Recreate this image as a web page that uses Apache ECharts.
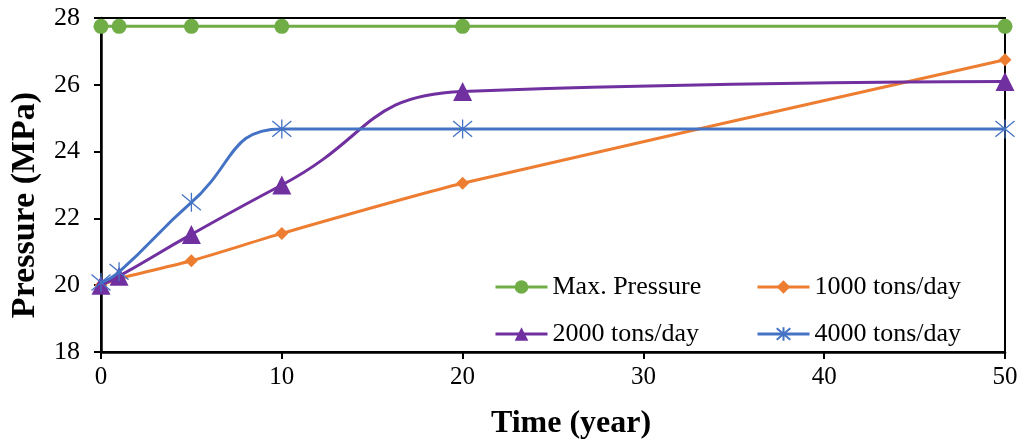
<!DOCTYPE html>
<html><head><meta charset="utf-8">
<script src="https://cdn.jsdelivr.net/npm/echarts@6/dist/echarts.min.js"></script>
<style>html,body{margin:0;padding:0;background:#fff}#c{width:1027px;height:446px}</style>
</head><body><div id="c"></div>
<script>
const years = [0, 1, 5, 10, 20, 50];
const maxPressure = [27.75, 27.75, 27.75, 27.75, 27.75, 27.75];
const t1000 = [20.0, 20.2, 20.73, 21.55, 23.05, 26.75];
const t2000 = [20.0, 20.27, 21.52, 23.0, 25.8, 26.1];
const t4000 = [20.08, 20.4, 22.48, 24.68, 24.68, 24.68];
const seriesNames = ['Max. Pressure', '1000 tons/day', '2000 tons/day', '4000 tons/day'];
const xTicks = [0, 10, 20, 30, 40, 50];
const yTicks = [18, 20, 22, 24, 26, 28];

const pair = a => years.map((x, i) => [x, a[i]]);
const font = '"Liberation Serif", "Times New Roman", serif';
const star = 'path://M0,0 L10,10 M10,0 L0,10 M5,-1 L5,11';

const legendCommon = {
  orient: 'vertical', top: 274, padding: 0,
  itemWidth: 52, itemHeight: 17, itemGap: 21,
  lineStyle: { width: 3 },
  textStyle: { fontFamily: font, fontSize: 26, color: '#000', padding: [0, 0, 0, 0] }
};

const chart = echarts.init(document.getElementById('c'));
chart.setOption({
  animation: false,
  textStyle: { fontFamily: font },
  grid: { left: 101, right: 22, top: 18, bottom: 94, show: true, borderColor: '#000', borderWidth: 2, backgroundColor: 'transparent' },
  title: {
    text: 'Time (year)', left: 566, top: 403, textAlign: 'center',
    textStyle: { fontFamily: font, fontSize: 32, fontWeight: 'bold', color: '#000' }
  },
  legend: [
    Object.assign({ data: [seriesNames[0], seriesNames[2]], left: 494 }, legendCommon),
    Object.assign({ data: [seriesNames[1], seriesNames[3]], left: 756 }, legendCommon)
  ],
  xAxis: {
    type: 'value', min: xTicks[0], max: xTicks[xTicks.length - 1], interval: 10,
    axisLine: { lineStyle: { color: '#000', width: 2.5 } },
    axisTick: { show: true, inside: false, length: 7, lineStyle: { color: '#000', width: 2 } },
    axisLabel: { fontFamily: font, fontSize: 25, color: '#000', margin: 13 },
    splitLine: { show: false }
  },
  yAxis: {
    type: 'value', min: yTicks[0], max: yTicks[yTicks.length - 1], interval: 2,
    name: 'Pressure (MPa)', nameLocation: 'middle', nameGap: 59,
    nameTextStyle: { fontFamily: font, fontSize: 34, fontWeight: 'bold', color: '#000', padding: [0, 40, 0, 0] },
    axisLine: { show: true, lineStyle: { color: '#000', width: 2.5 } },
    axisTick: { show: true, inside: false, length: 7, lineStyle: { color: '#000', width: 2 } },
    axisLabel: { fontFamily: font, fontSize: 26, color: '#000', margin: 21 },
    splitLine: { show: false }
  },
  series: [
    {
      name: seriesNames[0], type: 'line', data: pair(maxPressure), clip: false,
      symbol: 'circle', symbolSize: 15,
      itemStyle: { color: '#70AD47' }, lineStyle: { color: '#70AD47', width: 3 }, z: 2
    },
    {
      name: seriesNames[1], type: 'line', data: pair(t1000), smooth: 0.2, clip: false,
      symbol: 'diamond', symbolSize: 13,
      itemStyle: { color: '#ED7D31' }, lineStyle: { color: '#ED7D31', width: 3 }, z: 3
    },
    {
      name: seriesNames[2], type: 'line', data: pair(t2000), smooth: 0.5, clip: false,
      symbol: 'triangle', symbolSize: 19,
      itemStyle: { color: '#7030A0' }, lineStyle: { color: '#7030A0', width: 3 }, z: 4
    },
    {
      name: seriesNames[3], type: 'line', data: pair(t4000), smooth: 0.5, clip: false,
      symbol: star, symbolSize: 19,
      itemStyle: { color: '#4472C4', borderColor: '#4472C4', borderWidth: 1.3 },
      lineStyle: { color: '#4472C4', width: 3 }, z: 5
    }
  ]
});
</script>
</body></html>
